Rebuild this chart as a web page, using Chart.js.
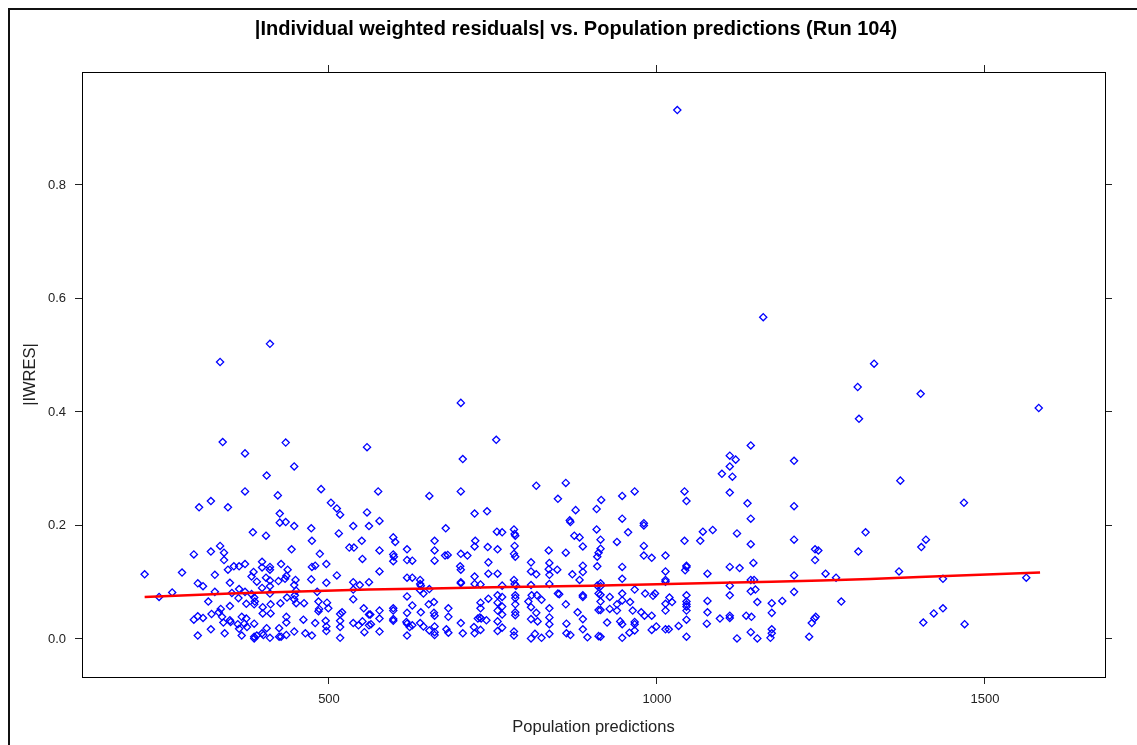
<!DOCTYPE html>
<html lang="en">
<head>
    <meta charset="UTF-8">
    <title>|IWRES| vs. Population predictions (Run 104)</title>
    <style>
        html, body {
            margin: 0;
            padding: 0;
            background-color: white;
        }
        #scatterChart {
            display: block;
        }
    </style>
    <script src="https://cdn.jsdelivr.net/npm/chart.js"></script>
</head>
<body>
    <canvas id="scatterChart" width="1137" height="745"></canvas>

    <script>
        // tick positions
        const xTicks = [500, 1000, 1500];
        const yTicks = [0, 0.2, 0.4, 0.6, 0.8];

        // the few points high above the main band
        const predHigh = [1031, 1162, 1331, 1306, 1402, 1308, 1582, 334, 410, 701];
        const iwresHigh = [0.932, 0.567, 0.485, 0.444, 0.432, 0.388, 0.407, 0.488, 0.520, 0.416];

        // population predictions below ~560
        const predLow = [
            338, 434, 372, 558, 447, 405, 372, 488, 422, 320,
            302, 346, 503, 512, 517, 558, 425, 425, 434, 447,
            473, 537, 561, 384, 404, 515, 443, 474, 550, 334,
            320, 340, 294, 340, 486, 531, 538, 551, 398, 355,
            363, 372, 346, 398, 410, 410, 427, 437, 474, 479,
            496, 385, 382, 326, 276, 219, 404, 435, 433, 473,
            512, 300, 308, 349, 390, 410, 423, 449, 447, 398,
            410, 496, 537, 547, 561, 261, 241, 326, 363, 372,
            382, 352, 450, 448, 447, 362, 386, 410, 436, 482,
            537, 316, 374, 386, 387, 349, 399, 411, 426, 450,
            462, 484, 497, 499, 485, 484, 537, 553, 561, 335,
            332, 321, 294, 300, 308, 337, 349, 350, 339, 367,
            374, 371, 375, 361, 363, 399, 411, 435, 435, 461,
            479, 495, 496, 517, 520, 517, 517, 537, 545, 551,
            561, 320, 341, 367, 386, 386, 390, 398, 400, 410,
            424, 427, 435, 447, 464, 474, 496, 517, 554, 300,
            386, 405, 424
        ];
        const iwresLow = [
            0.347, 0.346, 0.327, 0.338, 0.304, 0.288, 0.260, 0.264, 0.253, 0.243,
            0.232, 0.232, 0.240, 0.230, 0.219, 0.223, 0.221, 0.205, 0.206, 0.199,
            0.195, 0.199, 0.199, 0.188, 0.182, 0.186, 0.158, 0.173, 0.173, 0.164,
            0.154, 0.152, 0.149, 0.139, 0.150, 0.161, 0.161, 0.141, 0.136, 0.128,
            0.128, 0.132, 0.122, 0.126, 0.127, 0.122, 0.132, 0.122, 0.127, 0.129,
            0.132, 0.118, 0.110, 0.113, 0.117, 0.114, 0.108, 0.111, 0.106, 0.105,
            0.112, 0.098, 0.093, 0.099, 0.101, 0.103, 0.102, 0.104, 0.095, 0.090,
            0.093, 0.099, 0.100, 0.095, 0.100, 0.082, 0.074, 0.083, 0.088, 0.083,
            0.079, 0.081, 0.085, 0.077, 0.070, 0.072, 0.073, 0.080, 0.073, 0.083,
            0.087, 0.066, 0.062, 0.061, 0.066, 0.058, 0.056, 0.061, 0.063, 0.063,
            0.063, 0.066, 0.064, 0.054, 0.053, 0.049, 0.070, 0.054, 0.043, 0.053,
            0.047, 0.044, 0.034, 0.040, 0.037, 0.039, 0.033, 0.030, 0.029, 0.039,
            0.036, 0.027, 0.021, 0.026, 0.018, 0.045, 0.045, 0.039, 0.029, 0.034,
            0.028, 0.032, 0.022, 0.044, 0.047, 0.032, 0.021, 0.028, 0.024, 0.031,
            0.024, 0.017, 0.010, 0.006, 0.004, 0.001, 0.006, 0.010, 0.007, 0.002,
            0.004, 0.004, 0.007, 0.013, 0.010, 0.006, 0.014, 0.002, 0.012, 0.006,
            0.027, 0.019, 0.019
        ];

        // population predictions ~560 to ~910
        const predMid = [
            755, 704, 575, 653, 701, 816, 861, 849, 577, 722,
            741, 678, 876, 908, 867, 868, 598, 601, 577, 661,
            756, 764, 782, 783, 784, 874, 882, 887, 742, 723,
            722, 701, 711, 757, 783, 782, 784, 598, 599, 598,
            619, 619, 627, 661, 661, 677, 681, 700, 701, 743,
            743, 757, 577, 835, 836, 835, 836, 848, 861, 808,
            808, 816, 871, 887, 887, 882, 909, 909, 909, 911,
            639, 639, 640, 619, 627, 701, 701, 722, 722, 731,
            782, 783, 785, 764, 808, 836, 619, 639, 653, 644,
            743, 757, 764, 784, 784, 809, 817, 824, 849, 851,
            861, 887, 887, 911, 911, 563, 577, 577, 598, 598,
            598, 598, 619, 627, 640, 652, 660, 660, 661, 682,
            682, 731, 731, 730, 727, 732, 740, 757, 757, 764,
            764, 784, 784, 784, 804, 808, 816, 808, 818, 836,
            836, 836, 862, 879, 887, 564, 577, 618, 619, 627,
            623, 639, 644, 653, 661, 661, 661, 679, 682, 701,
            704, 721, 722, 731, 757, 757, 764, 782, 782, 808,
            814, 824, 836, 862, 868, 887, 894, 619, 911
        ];
        const iwresMid = [
            0.351, 0.317, 0.260, 0.252, 0.260, 0.270, 0.275, 0.247, 0.208, 0.221,
            0.225, 0.195, 0.227, 0.229, 0.209, 0.206, 0.179, 0.171, 0.156, 0.173,
            0.189, 0.188, 0.193, 0.185, 0.182, 0.182, 0.179, 0.163, 0.162, 0.173,
            0.163, 0.150, 0.147, 0.158, 0.164, 0.150, 0.145, 0.149, 0.145, 0.137,
            0.158, 0.139, 0.138, 0.156, 0.138, 0.147, 0.148, 0.128, 0.122, 0.135,
            0.115, 0.115, 0.119, 0.156, 0.134, 0.123, 0.113, 0.122, 0.152, 0.135,
            0.119, 0.114, 0.114, 0.129, 0.118, 0.104, 0.145, 0.128, 0.094, 0.152,
            0.104, 0.097, 0.094, 0.108, 0.108, 0.100, 0.098, 0.110, 0.097, 0.096,
            0.104, 0.097, 0.094, 0.094, 0.095, 0.097, 0.075, 0.086, 0.088, 0.080,
            0.071, 0.077, 0.074, 0.077, 0.072, 0.077, 0.077, 0.069, 0.080, 0.079,
            0.061, 0.077, 0.074, 0.080, 0.051, 0.043, 0.050, 0.036, 0.054, 0.050,
            0.035, 0.032, 0.046, 0.059, 0.047, 0.061, 0.065, 0.046, 0.041, 0.054,
            0.039, 0.064, 0.054, 0.038, 0.036, 0.036, 0.033, 0.064, 0.050, 0.057,
            0.043, 0.061, 0.047, 0.042, 0.066, 0.056, 0.046, 0.035, 0.031, 0.054,
            0.038, 0.026, 0.027, 0.047, 0.035, 0.026, 0.013, 0.030, 0.027, 0.024,
            0.021, 0.028, 0.022, 0.015, 0.022, 0.012, 0.007, 0.017, 0.011, 0.028,
            0.010, 0.021, 0.010, 0.016, 0.031, 0.014, 0.020, 0.013, 0.006, 0.001,
            0.009, 0.002, 0.009, 0.010, 0.007, 0.017, 0.003, 0.006, 0.005
        ];

        // population predictions ~910 to ~1260
        const predHighRange = [
            1143, 1111, 1120, 1111, 1099, 1115, 1209, 966, 947, 915,
            1042, 1045, 1111, 1138, 1143, 1209, 947, 980, 980, 908,
            956, 939, 914, 914, 980, 980, 992, 1013, 1042, 1066,
            1070, 1085, 1122, 1143, 1209, 1241, 1246, 1241, 947, 947,
            1013, 1013, 1013, 1045, 1045, 1043, 1077, 1111, 1126, 1147,
            1143, 1148, 1209, 1257, 914, 914, 966, 914, 928, 914,
            947, 947, 959, 982, 994, 997, 1019, 1023, 1013, 1013,
            1045, 1045, 1045, 1045, 1045, 1045, 1077, 1077, 1111, 1111,
            1143, 1150, 1153, 1175, 1175, 1191, 1209, 914, 928, 939,
            939, 963, 976, 981, 992, 924, 944, 947, 966, 966,
            966, 958, 992, 999, 1013, 1018, 1033, 1045, 1096, 1111,
            1111, 1136, 1144, 1076, 1175, 1175, 1173, 947, 914, 1122,
            1143, 1153, 1232, 1236, 1240, 1242
        ];
        const iwresHighRange = [
            0.341, 0.323, 0.316, 0.304, 0.291, 0.286, 0.314, 0.260, 0.252, 0.245,
            0.260, 0.243, 0.258, 0.239, 0.212, 0.234, 0.212, 0.204, 0.200, 0.193,
            0.188, 0.171, 0.175, 0.159, 0.164, 0.147, 0.143, 0.147, 0.173, 0.173,
            0.189, 0.192, 0.186, 0.167, 0.175, 0.158, 0.156, 0.139, 0.127, 0.106,
            0.119, 0.104, 0.101, 0.129, 0.127, 0.121, 0.115, 0.127, 0.125, 0.134,
            0.104, 0.104, 0.112, 0.115, 0.098, 0.093, 0.087, 0.078, 0.074, 0.066,
            0.080, 0.068, 0.065, 0.080, 0.076, 0.080, 0.073, 0.065, 0.062, 0.050,
            0.077, 0.066, 0.061, 0.057, 0.050, 0.034, 0.067, 0.047, 0.094, 0.077,
            0.084, 0.087, 0.065, 0.063, 0.046, 0.067, 0.083, 0.051, 0.053, 0.050,
            0.061, 0.050, 0.047, 0.041, 0.041, 0.029, 0.031, 0.026, 0.030, 0.026,
            0.015, 0.011, 0.016, 0.022, 0.017, 0.017, 0.023, 0.004, 0.036, 0.041,
            0.037, 0.041, 0.039, 0.027, 0.017, 0.010, 0.002, 0.002, 0.004, 0.001,
            0.012, 0.001, 0.004, 0.028, 0.036, 0.039
        ];

        // sparse right tail
        const predTail = [1371, 1468, 1318, 1307, 1403, 1410, 1273, 1369, 1436, 1563, 1281, 1422, 1436, 1406, 1469];
        const iwresTail = [0.279, 0.240, 0.188, 0.154, 0.162, 0.175, 0.108, 0.119, 0.106, 0.108, 0.066, 0.045, 0.054, 0.029, 0.026];

        // loess smooth (red line)
        const smoothX = [219, 350, 560, 750, 900, 1100, 1250, 1400, 1584];
        const smoothY = [0.074, 0.080, 0.087, 0.091, 0.094, 0.099, 0.103, 0.109, 0.117];

        function toPoints(xs, ys) {
            return xs.map((x, i) => ({ x: x, y: ys[i] }));
        }

        const points = [].concat(
            toPoints(predHigh, iwresHigh),
            toPoints(predLow, iwresLow),
            toPoints(predMid, iwresMid),
            toPoints(predHighRange, iwresHighRange),
            toPoints(predTail, iwresTail)
        );

        const fontFamily = "'Liberation Sans', Arial, sans-serif";
        const fixTicks = vals => scale => { scale.ticks = vals.map(v => ({ value: v })); };

        // outer frame lines of the original image
        const framePlugin = {
            id: 'frame',
            beforeDraw(chart) {
                const ctx = chart.ctx;
                ctx.save();
                ctx.fillStyle = 'white';
                ctx.fillRect(0, 0, chart.width, chart.height);
                ctx.strokeStyle = '#111';
                ctx.lineWidth = 2;
                ctx.beginPath();
                ctx.moveTo(9, 9);
                ctx.lineTo(9, chart.height);
                ctx.moveTo(8, 9);
                ctx.lineTo(chart.width, 9);
                ctx.stroke();
                ctx.restore();
            }
        };

        const axisCommon = {
            grid: { drawOnChartArea: false, drawTicks: true, tickLength: 7, color: '#222' },
            border: { display: true, color: '#000', width: 1 }
        };

        new Chart(document.getElementById('scatterChart').getContext('2d'), {
            type: 'scatter',
            data: {
                datasets: [
                    {
                        type: 'line',
                        label: 'loess',
                        data: toPoints(smoothX, smoothY),
                        borderColor: '#ff0000',
                        borderWidth: 2.5,
                        pointRadius: 0,
                        fill: false,
                        tension: 0.3
                    },
                    {
                        label: '|IWRES|',
                        data: points,
                        pointStyle: 'rectRot',
                        pointRadius: 3.6,
                        borderColor: '#0000ff',
                        backgroundColor: 'rgba(0,0,0,0)',
                        borderWidth: 1.3
                    }
                ]
            },
            options: {
                responsive: false,
                animation: false,
                layout: { padding: { left: 15, right: 0, top: 0, bottom: 0 } },
                plugins: {
                    legend: { display: false },
                    tooltip: { enabled: false },
                    title: {
                        display: true,
                        text: '|Individual weighted residuals| vs. Population predictions (Run 104)',
                        color: '#000',
                        font: { family: fontFamily, size: 20, weight: 'bold' },
                        padding: { top: 17, bottom: 0 }
                    }
                },
                scales: {
                    x: {
                        ...axisCommon,
                        type: 'linear',
                        position: 'bottom',
                        min: 123.5,
                        max: 1683,
                        afterBuildTicks: fixTicks(xTicks),
                        afterFit: s => { s.height = 68; },
                        ticks: {
                            color: '#222',
                            padding: 8,
                            maxRotation: 0,
                            font: { family: fontFamily, size: 13 },
                            callback: v => String(v)
                        },
                        title: {
                            display: true,
                            text: 'Population predictions',
                            color: '#222',
                            font: { family: fontFamily, size: 16.5 },
                            padding: { top: 0, bottom: 8 }
                        }
                    },
                    x2: {
                        ...axisCommon,
                        type: 'linear',
                        axis: 'x',
                        position: 'top',
                        min: 123.5,
                        max: 1683,
                        afterBuildTicks: fixTicks(xTicks),
                        afterFit: s => { s.height = 31; },
                        ticks: { display: false }
                    },
                    y: {
                        ...axisCommon,
                        type: 'linear',
                        position: 'left',
                        min: -0.067,
                        max: 0.999,
                        afterBuildTicks: fixTicks(yTicks),
                        afterFit: s => { s.width = 67; },
                        ticks: {
                            color: '#222',
                            padding: 9,
                            font: { family: fontFamily, size: 13 },
                            callback: v => v.toFixed(1)
                        },
                        title: {
                            display: true,
                            text: '|IWRES|',
                            color: '#222',
                            font: { family: fontFamily, size: 16.5 },
                            padding: { top: 6, bottom: 0 }
                        }
                    },
                    y2: {
                        ...axisCommon,
                        type: 'linear',
                        axis: 'y',
                        position: 'right',
                        min: -0.067,
                        max: 0.999,
                        afterBuildTicks: fixTicks(yTicks),
                        afterFit: s => { s.width = 32; },
                        ticks: { display: false }
                    }
                }
            },
            plugins: [framePlugin]
        });
    </script>
</body>
</html>
